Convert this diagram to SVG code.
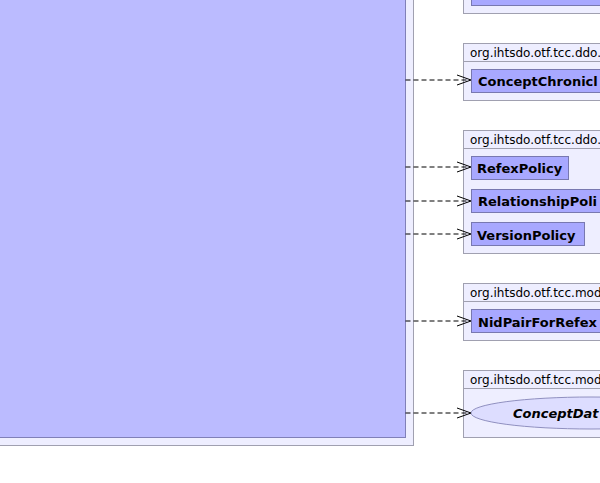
<svg xmlns="http://www.w3.org/2000/svg" width="600" height="483" viewBox="0 0 600 483">
<style>
.pkg{fill:#EEEEFF;stroke:#A0A0B0;stroke-width:1}
.cls{fill:#A8A8FF;stroke:#7878B0;stroke-width:1}
.plab{font-family:"DejaVu Sans",sans-serif;font-size:12px;fill:#000}
.clab{font-family:"DejaVu Sans",sans-serif;font-size:13px;font-weight:bold;fill:#000}
.edge{fill:none;stroke:#000;stroke-width:1;stroke-dasharray:5,3}
.head{fill:none;stroke:#000;stroke-width:1}
</style>
<rect width="600" height="483" fill="#FFFFFF"/>
<g id="bigpkg">
<rect class="pkg" x="-10" y="-10" width="423.5" height="455.5"/>
<rect x="-10" y="-10" width="415.5" height="447.5" fill="#BBBBFF" stroke="#8080B8"/>
</g>
<g id="pkg1">
<rect class="pkg" x="463.5" y="-10" width="150" height="23.5"/>
<rect class="cls" x="471.5" y="-10" width="140" height="15.5"/>
</g>
<g id="pkg2">
<rect class="pkg" x="463.5" y="43.5" width="150" height="57"/>
<line class="pkg" x1="463.5" y1="61.5" x2="613.5" y2="61.5"/>
<text class="plab" x="470" y="57">org.ihtsdo.otf.tcc.ddo.</text>
<rect class="cls" x="471.5" y="69.5" width="140" height="23"/>
<text class="clab" x="478" y="86">ConceptChronicl</text>
</g>
<g id="pkg3">
<rect class="pkg" x="463.5" y="130.5" width="150" height="123"/>
<line class="pkg" x1="463.5" y1="148.5" x2="613.5" y2="148.5"/>
<text class="plab" x="470" y="144">org.ihtsdo.otf.tcc.ddo.</text>
<rect class="cls" x="471.5" y="156.5" width="97" height="23"/>
<text class="clab" x="477" y="173">RefexPolicy</text>
<rect class="cls" x="471.5" y="189.5" width="140" height="23"/>
<text class="clab" x="478" y="206">RelationshipPoli</text>
<rect class="cls" x="471.5" y="222.5" width="113" height="23"/>
<text class="clab" x="477" y="240">VersionPolicy</text>
</g>
<g id="pkg4">
<rect class="pkg" x="463.5" y="283.5" width="150" height="57"/>
<line class="pkg" x1="463.5" y1="301.5" x2="613.5" y2="301.5"/>
<text class="plab" x="470" y="297">org.ihtsdo.otf.tcc.mod</text>
<rect class="cls" x="471.5" y="309.5" width="140" height="23"/>
<text class="clab" x="478" y="327">NidPairForRefex</text>
</g>
<g id="pkg5">
<rect class="pkg" x="463.5" y="370.5" width="150" height="67"/>
<line class="pkg" x1="463.5" y1="388.5" x2="613.5" y2="388.5"/>
<text class="plab" x="470" y="384">org.ihtsdo.otf.tcc.mod</text>
<ellipse cx="591" cy="413" rx="120" ry="16" fill="#DDDDFF" stroke="#9090C0"/>
<text class="clab" x="513" y="418" font-style="italic">ConceptDat</text>
</g>
<g id="connectors">
<line class="edge" x1="405.5" y1="80" x2="470" y2="80"/>
<polyline class="head" points="457,75 471,80 457,85"/>
<line class="edge" x1="405.5" y1="167" x2="470" y2="167"/>
<polyline class="head" points="457,162 471,167 457,172"/>
<line class="edge" x1="405.5" y1="201" x2="470" y2="201"/>
<polyline class="head" points="457,196 471,201 457,206"/>
<line class="edge" x1="405.5" y1="234" x2="470" y2="234"/>
<polyline class="head" points="457,229 471,234 457,239"/>
<line class="edge" x1="405.5" y1="321" x2="470" y2="321"/>
<polyline class="head" points="457,316 471,321 457,326"/>
<line class="edge" x1="405.5" y1="413" x2="470" y2="413"/>
<polyline class="head" points="457,408 471,413 457,418"/>
</g>
</svg>
